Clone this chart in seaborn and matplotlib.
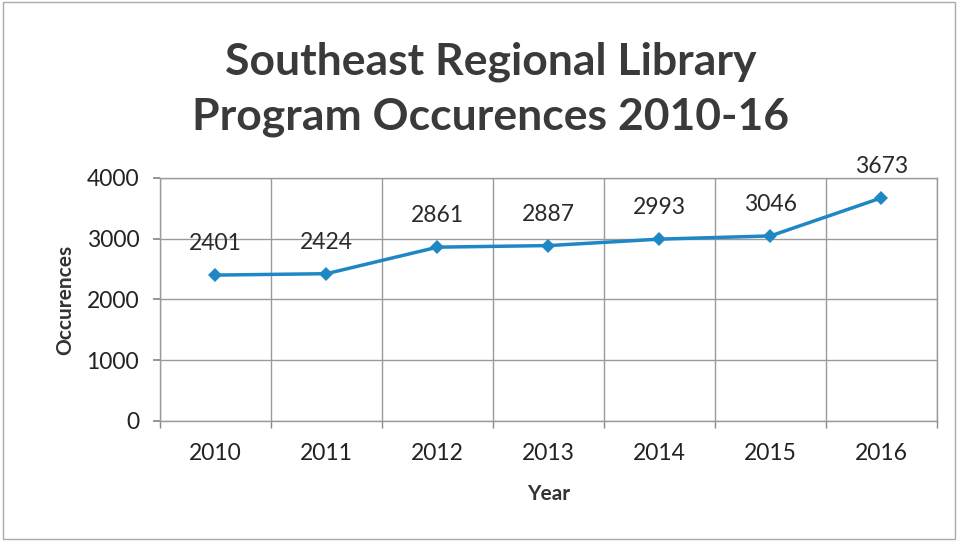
import matplotlib
matplotlib.use("Agg")
import matplotlib.pyplot as plt
import numpy as np
import pandas as pd
import seaborn as sns
from matplotlib.patches import Rectangle

years = ["2010", "2011", "2012", "2013", "2014", "2015", "2016"]
occurences = [2401, 2424, 2861, 2887, 2993, 3046, 3673]
y_ticks = [0, 1000, 2000, 3000, 4000]

df = pd.DataFrame({"Year": years, "Occurences": occurences})

sns.set_theme(style="white")
plt.rcParams["font.family"] = ["Lato", "DejaVu Sans"]

fig = plt.figure(figsize=(9.58, 5.41), dpi=100)
ax = fig.add_axes([0.167, 0.222, 0.811, 0.449])

sns.lineplot(data=df, x="Year", y="Occurences", ax=ax, color="#1f87c4",
             linewidth=2.5, marker="D", markersize=7, markeredgewidth=0)

for i, v in enumerate(occurences):
    ax.annotate(str(v), (i, v), xytext=(0, 15), textcoords="offset points",
                ha="center", va="bottom", fontsize=16.5, color="#2a2a2a")

ax.set_xlim(-0.5, len(years) - 0.5)
ax.set_ylim(0, 4000)
ax.set_yticks(y_ticks)
ax.set_xticks(range(len(years)))
ax.set_xticks(np.arange(-0.5, len(years)), minor=True)
ax.set_xticklabels(years, fontsize=16.5, color="#222222")
ax.set_yticklabels([str(t) for t in y_ticks], fontsize=16.5, color="#222222")
ax.tick_params(axis="x", which="major", length=0, pad=16)
ax.tick_params(axis="x", which="minor", length=5, color="#888888", bottom=True)
ax.tick_params(axis="y", length=5, color="#888888", left=True, pad=10)

ax.grid(True, axis="y", color="#9a9a9a", linewidth=1)
ax.grid(True, axis="x", which="minor", color="#9a9a9a", linewidth=1)
ax.set_axisbelow(True)
for s in ax.spines.values():
    s.set_color("#9a9a9a")
    s.set_linewidth(1)

ax.set_xlabel("Year", fontsize=15, fontweight="bold", color="#333333", labelpad=14)
ax.set_ylabel("Occurences", fontsize=15, fontweight="bold", color="#333333", labelpad=8)

fig.text(0.512, 0.835, "Southeast Regional Library\nProgram Occurences 2010-16",
         ha="center", va="center", fontsize=32, fontweight="bold",
         color="#3a3a3a", linespacing=1.42)

fig.patches.append(Rectangle((0.003, 0.003), 0.994, 0.994, transform=fig.transFigure,
                             fill=False, edgecolor="#aaaaaa", linewidth=1))

fig.savefig("out.png", dpi=100)
